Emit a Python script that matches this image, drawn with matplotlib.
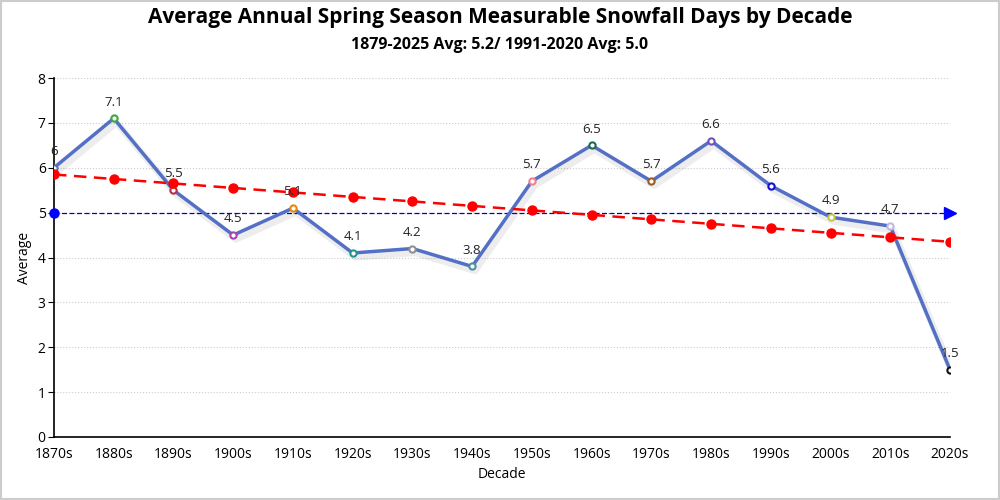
import matplotlib.pyplot as plt
import matplotlib.patheffects as pe
from matplotlib.patches import Rectangle

plt.rcParams["font.family"] = ["Open Sans", "DejaVu Sans"]

# Data
decades = ["1870s", "1880s", "1890s", "1900s", "1910s", "1920s", "1930s", "1940s",
           "1950s", "1960s", "1970s", "1980s", "1990s", "2000s", "2010s", "2020s"]
averages = [6.0, 7.1, 5.5, 4.5, 5.1, 4.1, 4.2, 3.8,
            5.7, 6.5, 5.7, 6.6, 5.6, 4.9, 4.7, 1.5]
trend = [5.85, 5.75, 5.65, 5.55, 5.45, 5.35, 5.25, 5.15,
         5.05, 4.95, 4.85, 4.75, 4.65, 4.55, 4.45, 4.35]
normal_avg = 5.0
marker_edges = ["#5470c6", "#3ba83b", "#b0304a", "#b040b0", "#e08a10", "#1a9a90",
                "#909090", "#4a90a0", "#f08090", "#1e6a50", "#a05a20", "#7050c0",
                "#1010d0", "#c8c840", "#c0b8e0", "#111111"]

x = list(range(len(decades)))

fig = plt.figure(figsize=(10, 5), dpi=100)
ax = fig.add_axes([0.054, 0.126, 0.896, 0.718])

# Main series with a soft shadow
ax.plot(x, averages, color="#5470c6", linewidth=2.5, zorder=3,
        path_effects=[pe.SimpleLineShadow(offset=(2, -3), alpha=0.07, rho=1.0,
                                          linewidth=5),
                      pe.Normal()])
for xi, yi, c in zip(x, averages, marker_edges):
    ax.plot(xi, yi, marker="o", markersize=4.5, markerfacecolor="white",
            markeredgecolor=c, markeredgewidth=1.5, zorder=4)
    ax.annotate(f"{yi:g}", (xi, yi), xytext=(0, 7), textcoords="offset points",
                ha="center", va="bottom", fontsize=9.5, color="#222222", zorder=6)

# Trend line
ax.plot(x, trend, color="red", linestyle=(0, (5, 3)), linewidth=1.8,
        marker="o", markersize=6.5, zorder=5)

# 1991-2020 average
ax.axhline(normal_avg, color="#0000cc", linestyle=(0, (4, 2)), linewidth=0.9, zorder=2)
ax.plot(0, normal_avg, marker="o", color="blue", markersize=6.5, zorder=5, clip_on=False)
ax.plot(x[-1], normal_avg, marker=">", color="blue", markersize=9, zorder=5, clip_on=False)

ax.set_xlim(0, len(decades) - 1)
ax.set_ylim(0, 8)
ax.set_xticks(x)
ax.set_xticklabels(decades, fontsize=10)
ax.set_yticks(range(9))
ax.tick_params(axis="y", labelsize=10, length=4, pad=2)
ax.tick_params(axis="x", length=0, pad=7)
ax.yaxis.grid(True, linestyle=":", color="#cccccc", linewidth=0.8)
for side in ["top", "right"]:
    ax.spines[side].set_visible(False)
for side in ["left", "bottom"]:
    ax.spines[side].set_linewidth(1.2)

ax.set_xlabel("Decade", fontsize=10)
ax.set_ylabel("Average", fontsize=10)

fig.text(0.5, 0.965, "Average Annual Spring Season Measurable Snowfall Days by Decade",
         ha="center", va="center", fontsize=15, fontweight="bold")
fig.text(0.5, 0.91, "1879-2025 Avg: 5.2/ 1991-2020 Avg: 5.0",
         ha="center", va="center", fontsize=11.5, fontweight="bold")

fig.patches.append(Rectangle((0.001, 0.002), 0.998, 0.996, transform=fig.transFigure,
                             fill=False, edgecolor="#cccccc", linewidth=1.5))

fig.savefig("out.png", dpi=100)
